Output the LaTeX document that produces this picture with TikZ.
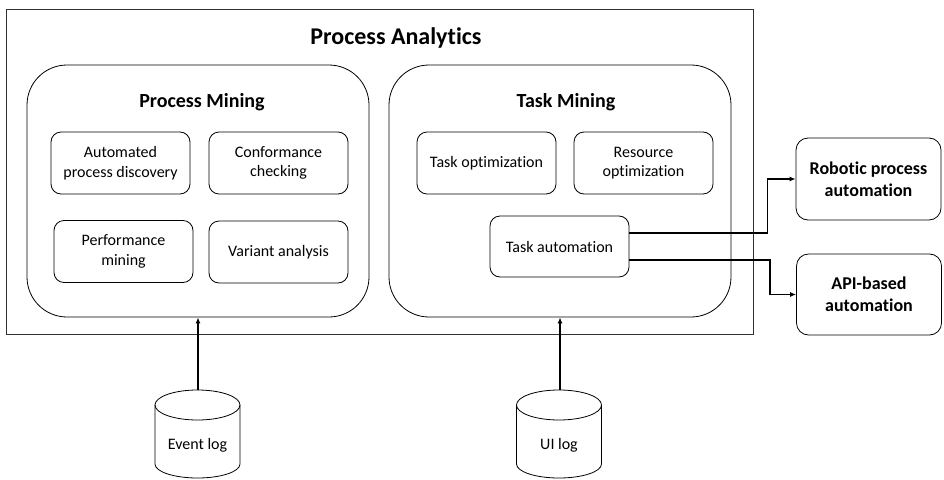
\documentclass[tikz,border=0pt]{standalone}
\usepackage{fontspec}
\setmainfont{Carlito}[Ligatures=NoCommon]
\usetikzlibrary{arrows.meta}
\begin{document}
\begin{tikzpicture}[x=1pt,y=-1pt,
  frame/.style={draw=black!80, line width=0.9pt},
  group/.style={draw, line width=0.8pt, rounded corners=40pt,
    minimum width=342pt, minimum height=252pt},
  item/.style={draw, line width=0.8pt, rounded corners=10pt,
    minimum width=139pt, minimum height=62pt, align=center, inner sep=2pt,
    font=\fontsize{16}{19.5}\selectfont},
  target/.style={draw, line width=0.8pt, rounded corners=12pt,
    minimum width=145pt, minimum height=82pt, align=center,
    font=\fontsize{18}{22}\selectfont\bfseries},
  heading/.style={anchor=base, font=\fontsize{20}{24}\selectfont\bfseries},
  flow/.style={line width=1.6pt, -{Latex[length=6pt,width=5pt]}},
  store/.style={line width=0.8pt},
  logdrum/.pic={
    \draw[store] (0,15) ellipse[x radius=42.5pt, y radius=15pt];
    \draw[store] (-42.5,15) -- (-42.5,74)
      arc[start angle=180, end angle=360, x radius=42.5pt, y radius=14pt]
      -- (42.5,15);
  }
]
\useasboundingbox (0,0) rectangle (944,479);
\fill[white] (0,0) rectangle (944,479);

% outer frame
\node[frame, minimum width=747pt, minimum height=325pt] (pa) at (379.5,171.5) {};
\node[anchor=base, font=\fontsize{24}{29}\selectfont\bfseries] (patitle) at (396,44.5) {Process Analytics};

% process mining group
\node[group] (pm) at (198,191) {};
\node[heading] (pmtitle) at (202,107) {Process Mining};
\node[item] (apd)  at (120.5,163) {Automated\\process discovery};
\node[item] (cc)   at (278.5,163) {Conformance\\checking};
\node[item] (perf) at (123.5,251.5) {Performance\\mining};
\node[item] (va)   at (278.5,252) {Variant analysis};

% task mining group
\node[group] (tm) at (560,191) {};
\node[heading] (tmtitle) at (566,107) {Task Mining};
\node[item] (to) at (486.5,163) {Task optimization};
\node[item] (ro) at (643.5,163) {Resource\\optimization};
\node[item, minimum height=61pt] (ta) at (559.5,246.5) {Task automation};

% automation targets
\node[target] (rpa) at (868.5,179) {Robotic process\\automation};
\node[target, minimum height=81pt] (api) at (869,294.5) {API-based\\automation};

\draw[flow] ([yshift=13.5pt]ta.east) -| ([xshift=-28pt]rpa.west) -- (rpa.west);
\draw[flow] ([yshift=-13.5pt]ta.east) -| ([xshift=-26pt]api.west) -- (api.west);

% log stores
\pic at (197.5,390) {logdrum};
\node[font=\fontsize{16}{19.5}\selectfont] (evlog) at (197.5,445) {Event log};
\coordinate (evtop) at (198,390);

\pic at (559,390) {logdrum};
\node[font=\fontsize{16}{19.5}\selectfont] (uilog) at (559,445) {UI log};
\coordinate (uitop) at (560,390);

\draw[flow] (evtop) -- (pm.south);
\draw[flow] (uitop) -- (tm.south);
\end{tikzpicture}
\end{document}
